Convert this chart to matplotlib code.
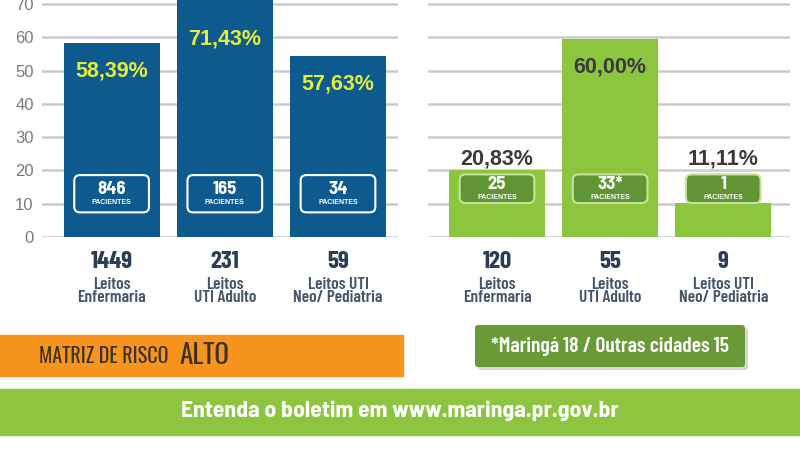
import matplotlib.pyplot as plt
from matplotlib.patches import FancyBboxPatch, Rectangle

# data
categories = ['Leitos\nEnfermaria', 'Leitos\nUTI Adulto', 'Leitos UTI\nNeo/ Pediatria']
left_beds = ['1449', '231', '59']
left_pct = ['58,39%', '71,43%', '57,63%']
left_height = [58.3, 72.0, 54.5]
left_patients = ['846', '165', '34']

right_beds = ['120', '55', '9']
right_pct = ['20,83%', '60,00%', '11,11%']
right_height = [20.2, 59.5, 10.2]
right_patients = ['25', '33*', '1']

yticks = [0, 10, 20, 30, 40, 50, 60, 70]

BLUE = '#0d5b8e'
GREEN = '#8cc63f'
DARK_GREEN = '#5f9533'
ORANGE = '#f7941d'
GRID = '#cccccc'
COND = ['Barlow Condensed', 'Liberation Sans', 'DejaVu Sans']
SEMI = ['Barlow Semi Condensed', 'Liberation Sans', 'DejaVu Sans']
TALL = ['Oswald', 'Barlow Condensed', 'Liberation Sans']
SANS = ['Liberation Sans', 'DejaVu Sans']

fig = plt.figure(figsize=(8, 4.5), dpi=100)
W, H = 800, 450


def make_ax(x0, x1):
    # axes in pixel coords: zero line at y=237, top of figure at y=0
    ax = fig.add_axes([x0 / W, (H - 237) / H, (x1 - x0) / W, 237 / H])
    ax.set_ylim(0, 70 * 237 / 233)
    for s in ax.spines.values():
        s.set_visible(False)
    for t in yticks:
        ax.axhline(t, color=GRID, lw=1.8, zorder=0)
    ax.tick_params(length=0)
    ax.set_xticks([])
    return ax


def draw_panel(ax, beds, pct, heights, patients, bar_color, pct_color,
               box_face, box_edge, box_y0, box_y1):
    xs = range(len(heights))
    ax.bar(xs, heights, width=0.85, color=bar_color, zorder=2, clip_on=True)
    # keep rounded corners round in pixel space
    bb = ax.get_window_extent()
    xr = ax.get_xlim()[1] - ax.get_xlim()[0]
    yr = ax.get_ylim()[1] - ax.get_ylim()[0]
    aspect = (yr / bb.height) / (xr / bb.width)
    bw = 0.66
    for x, h, p, n, b, c in zip(xs, heights, pct, patients, beds, categories):
        box = FancyBboxPatch((x - bw / 2, box_y0), bw, box_y1 - box_y0,
                             boxstyle='round,pad=0,rounding_size=0.05',
                             mutation_aspect=aspect,
                             facecolor=box_face, edgecolor=box_edge,
                             lw=1.5, zorder=3)
        ax.add_patch(box)
        mid = (box_y0 + box_y1) / 2
        ax.text(x, mid + 1.3, n, color='white', fontsize=13.5,
                fontweight='bold', family=SEMI, ha='center', va='center',
                zorder=4)
        ax.text(x, mid - 2.6, 'PACIENTES', color='white', fontsize=5,
                fontweight='bold', family=SANS, ha='center', va='center',
                zorder=4)
        ly = max(min(h, 68) - 8.5, box_y1 + 4.6)
        ax.text(x, ly, p, color=pct_color, fontsize=15.5, fontweight='bold',
                family=SANS, ha='center', va='center', zorder=4)
        ax.text(x, -7.6, b, color='#2c3e55', fontsize=18, fontweight='bold',
                family=COND, ha='center', va='center', clip_on=False)
        ax.text(x, -16.2, c, color='#44566b', fontsize=12.5, fontweight=600,
                family=COND, ha='center', va='center', linespacing=0.9,
                clip_on=False)


axl = make_ax(42, 398)
axl.set_xlim(-0.615, 2.53)
axl.set_yticks(yticks)
axl.set_yticklabels([str(t) for t in yticks], color='#7a7a7a', fontsize=12,
                    family=SANS)
axl.tick_params(axis='y', pad=6)
draw_panel(axl, left_beds, left_pct, left_height, left_patients, BLUE,
           '#e6ec3a', 'none', 'white', 7.4, 18.6)

axr = make_ax(428, 790)
axr.set_xlim(-0.61, 2.59)
axr.set_yticks([])
draw_panel(axr, right_beds, right_pct, right_height, right_patients, GREEN,
           '#3a3a3a', DARK_GREEN, '#c5e39a', 10.2, 18.8)

# bottom decoration
deco = fig.add_axes([0, 0, 1, 1], zorder=-1)
deco.set_xlim(0, W)
deco.set_ylim(H, 0)
deco.axis('off')
deco.add_patch(Rectangle((0, 335), 403, 41, color=ORANGE))
deco.text(39, 356, 'MATRIZ DE RISCO', color='#3a3222', fontsize=14.5,
          family=TALL, va='center', ha='left')
deco.text(179, 355, 'ALTO', color='#3a3222', fontsize=19.5,
          family=TALL, va='center', ha='left')
deco.add_patch(FancyBboxPatch((478, 328), 270, 42, boxstyle='round,pad=0,rounding_size=3',
                              facecolor='#bbbbbb', edgecolor='none', alpha=0.6))
deco.add_patch(FancyBboxPatch((475, 325), 270, 42, boxstyle='round,pad=0,rounding_size=3',
                              facecolor='#6a9a38', edgecolor='none'))
deco.text(610, 347, '*Maringá 18 / Outras cidades 15', color='white',
          fontsize=15.5, fontweight=600, family=COND, ha='center',
          va='center')
deco.add_patch(Rectangle((0, 389), W, 46, color='#8dc540'))
deco.text(400, 411, 'Entenda o boletim em www.maringa.pr.gov.br', color='white',
          fontsize=17, fontweight='bold', family=SEMI, ha='center',
          va='center')

fig.savefig('out.png', dpi=100)
